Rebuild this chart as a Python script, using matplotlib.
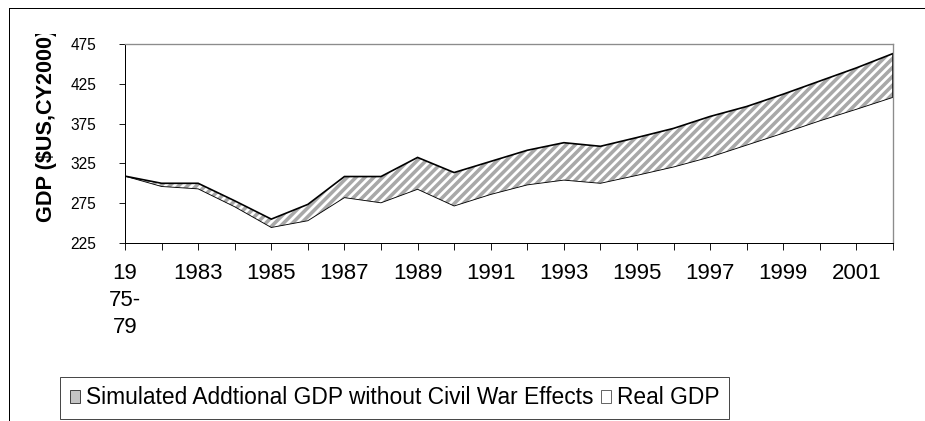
import numpy as np
import matplotlib
matplotlib.use("Agg")
import matplotlib.pyplot as plt
from matplotlib.patches import Patch
from matplotlib.lines import Line2D
from matplotlib.transforms import Bbox, TransformedBbox

# ---------------------------------------------------------------
# Data (GDP, $US CY2000)
# ---------------------------------------------------------------
periods = ["1975-79", "1982", "1983", "1984", "1985", "1986", "1987",
           "1988", "1989", "1990", "1991", "1992", "1993", "1994",
           "1995", "1996", "1997", "1998", "1999", "2000", "2001", "2002"]
tick_labels = ["19\n75-\n79", "", "1983", "", "1985", "", "1987", "",
               "1989", "", "1991", "", "1993", "", "1995", "", "1997", "",
               "1999", "", "2001", ""]
real_gdp = [309, 296, 293, 270.5, 244.5, 253, 282, 275.5, 292.5, 271.5,
            286, 298, 304, 300, 310, 320.5, 333, 348, 363, 378.5, 393, 408]
simulated_gdp = [309, 300, 300, 278, 255, 273.5, 308.5, 308.5, 332.5, 313.5,
                 327.5, 341.5, 351, 346.5, 357.5, 369, 384, 396.5, 412,
                 428.5, 445, 463]
y_ticks = [225, 275, 325, 375, 425, 475]

plt.rcParams['font.family'] = ['Liberation Sans', 'DejaVu Sans']
plt.rcParams['hatch.linewidth'] = 3.2

DPI = 80
fig = plt.figure(figsize=(925 / DPI, 421 / DPI), dpi=DPI)
ax = fig.add_axes([125 / 925, 1 - 243 / 421, (893 - 125) / 925, (243 - 44) / 421])

x = np.arange(len(periods))
real = np.array(real_gdp)
sim = np.array(simulated_gdp)

# Real GDP area (white) and simulated additional GDP (hatched) stacked on top
ax.fill_between(x, 225, real, facecolor='white', linewidth=0)
ax.fill_between(x, real, sim, facecolor='white', edgecolor='#a8a8a8',
                hatch='///', linewidth=0)
ax.plot(x, real, color='black', lw=0.8, solid_joinstyle='miter')
ax.plot(x, sim, color='black', lw=1.5, solid_joinstyle='miter')
ax.vlines(x[-1], real[-1], sim[-1], color='black', lw=1.5)

ax.set_xlim(0, len(periods) - 1)
ax.set_ylim(225, 475)
ax.set_yticks(y_ticks)
ax.set_xticks(x)
ax.set_xticklabels(tick_labels, linespacing=1.38, va='top')

ax.tick_params(axis='x', direction='out', length=6.3, width=0.8,
               labelsize=20, pad=12)
ax.tick_params(axis='y', direction='out', length=5.5, width=0.8,
               labelsize=14, pad=20.5)
for side in ['left', 'bottom']:
    ax.spines[side].set_color('black')
    ax.spines[side].set_linewidth(0.9)
for side in ['top', 'right']:
    ax.spines[side].set_color('#8c8c8c')
    ax.spines[side].set_linewidth(1.2)

# y-axis title, truncated at the top as in the original
ylab = fig.text(47 / 925, 1 - 222 / 421, "GDP ($US,CY2000)", rotation=90,
                ha='center', va='bottom', fontsize=19.5, fontweight='bold')
ylab.set_clip_box(TransformedBbox(Bbox([[0, 0], [1, 1 - 34 / 421]]),
                                  fig.transFigure))
ylab.set_clip_on(True)

# outer chart frame (left and top edges visible)
fig.add_artist(Line2D([8.5 / 925, 8.5 / 925], [0, 1 - 7.5 / 421],
                      transform=fig.transFigure, color='black', lw=0.9))
fig.add_artist(Line2D([8.5 / 925, 1], [1 - 7.5 / 421, 1 - 7.5 / 421],
                      transform=fig.transFigure, color='black', lw=0.9))

handles = [Patch(facecolor='#c4c4c4', edgecolor='#333333', linewidth=0.8),
           Patch(facecolor='white', edgecolor='#555555', linewidth=0.8)]
leg = fig.legend(handles,
                 ["Simulated Addtional GDP without Civil War Effects", "Real GDP"],
                 loc='center', bbox_to_anchor=(394.5 / 925, 1 - 398 / 421),
                 ncol=2, fontsize=20.5, frameon=True, fancybox=False,
                 handlelength=0.45, handleheight=0.45, handletextpad=0.25,
                 columnspacing=0.35, borderpad=0.4, borderaxespad=0)
leg.get_frame().set_edgecolor('black')
leg.get_frame().set_linewidth(0.8)

fig.savefig("out.png", dpi=DPI)
